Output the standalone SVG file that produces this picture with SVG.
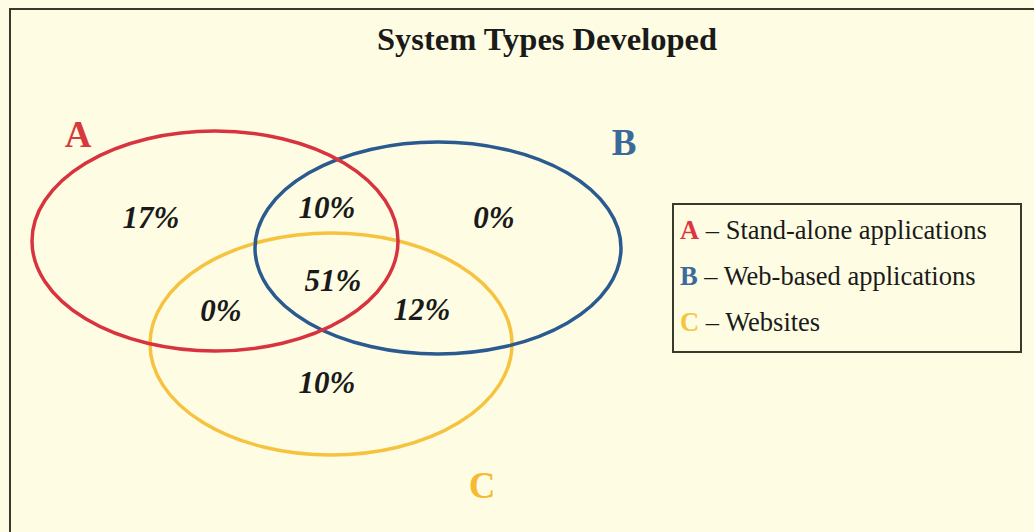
<svg xmlns="http://www.w3.org/2000/svg" width="1034" height="532" viewBox="0 0 1034 532">
  <defs>
    <style>
      .ring { fill: none; stroke-width: 3.5; }
      .pct { font-family: "Liberation Serif", "Times New Roman", serif; font-weight: bold; font-style: italic; font-size: 31px; fill: #1a1a1a; text-anchor: middle; }
      .big { font-family: "Liberation Serif", "Times New Roman", serif; font-weight: bold; font-size: 37px; }
      .leg { font-family: "Liberation Serif", "Times New Roman", serif; font-size: 26.5px; fill: #1a1a1a; }
      .legkey { font-weight: bold; }
    </style>
  </defs>

  <!-- page background and frame -->
  <rect x="0" y="0" width="1034" height="532" fill="#fefde3"/>
  <path d="M10,532 V9 H1034" fill="none" stroke="#3a3a2c" stroke-width="2"/>

  <text x="547" y="50" text-anchor="middle" font-family="Liberation Serif, Times New Roman, serif" font-weight="bold" font-size="32.5" fill="#1a1a1a">System Types Developed</text>

  <!-- set outlines -->
  <g id="setC">
    <ellipse class="ring" cx="331" cy="344" rx="181" ry="111" stroke="#f6c340"/>
    <text class="big" x="482" y="498" text-anchor="middle" fill="#f5bb35" font-weight="normal">C</text>
  </g>
  <g id="setB">
    <ellipse class="ring" cx="438" cy="248" rx="183" ry="106" stroke="#2b5a90"/>
    <text class="big" x="624" y="155" text-anchor="middle" fill="#3a6a9c">B</text>
  </g>
  <g id="setA">
    <ellipse class="ring" cx="215" cy="241" rx="183" ry="110" stroke="#d8343f"/>
    <text class="big" x="78" y="147" text-anchor="middle" fill="#d63a3e">A</text>
  </g>

  <!-- region shares -->
  <g id="regions">
    <text class="pct" x="151" y="228">17%</text>
    <text class="pct" x="327" y="218">10%</text>
    <text class="pct" x="494" y="228">0%</text>
    <text class="pct" x="333" y="291">51%</text>
    <text class="pct" x="221" y="321">0%</text>
    <text class="pct" x="422" y="320">12%</text>
    <text class="pct" x="327" y="393">10%</text>
  </g>

  <!-- key -->
  <g id="legend">
    <rect x="673" y="204" width="348" height="148" fill="none" stroke="#3a3a2c" stroke-width="2"/>
    <text class="leg" x="680" y="239"><tspan class="legkey" fill="#e0353f">A</tspan> – Stand-alone applications</text>
    <text class="leg" x="680" y="285"><tspan class="legkey" fill="#3a6a9c">B</tspan> – Web-based applications</text>
    <text class="leg" x="680" y="331"><tspan class="legkey" fill="#f5c540">C</tspan> – Websites</text>
  </g>
</svg>
